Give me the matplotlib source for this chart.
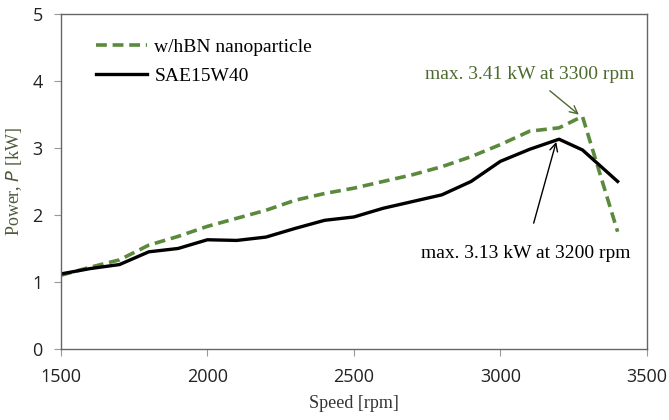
import matplotlib
matplotlib.use("Agg")
import matplotlib.pyplot as plt

speed = [1500, 1600, 1700, 1800, 1900, 2000, 2100, 2200, 2300, 2400, 2500,
         2600, 2700, 2800, 2900, 3000, 3100, 3200, 3280, 3400]
power_hbn = [1.10, 1.22, 1.33, 1.55, 1.68, 1.83, 1.95, 2.07, 2.22, 2.32, 2.40,
             2.50, 2.60, 2.72, 2.87, 3.05, 3.25, 3.30, 3.47, 1.75]
power_sae = [1.12, 1.20, 1.26, 1.45, 1.50, 1.63, 1.62, 1.67, 1.80, 1.92, 1.97,
             2.10, 2.20, 2.30, 2.50, 2.80, 2.98, 3.13, 2.97, 2.50]

x_ticks = [1500, 2000, 2500, 3000, 3500]
y_ticks = [0, 1, 2, 3, 4, 5]

green = "#5b8a3c"
serif = "Liberation Serif"

fig = plt.figure(figsize=(6.69, 4.2), dpi=100)
ax = fig.add_axes([0.091, 0.169, 0.876, 0.798])

ax.plot(speed, power_hbn, color=green, lw=2.6, ls=(0, (3, 1.6)),
        label="w/hBN nanoparticle")
ax.plot(speed, power_sae, color="black", lw=2.4, label="SAE15W40")

ax.set_xlim(1500, 3500)
ax.set_ylim(0, 5)
ax.set_xticks(x_ticks)
ax.set_yticks(y_ticks)
for sp in ax.spines.values():
    sp.set_color("#666666")
    sp.set_linewidth(1.0)
ax.tick_params(direction="out", length=5, color="#999999", labelsize=13,
               labelcolor="#222222")
ax.tick_params(axis="x", pad=9)
ax.tick_params(axis="y", pad=8)
for lab in ax.get_xticklabels() + ax.get_yticklabels():
    lab.set_family("Open Sans")

ax.set_xlabel("Speed [rpm]", family=serif, fontsize=13, color="#333333", labelpad=6)
ax.set_ylabel("Power, $\\mathit{P}$ [kW]", family=serif, fontsize=13,
              color="#4d5a3a", labelpad=6)

leg = ax.legend(loc="upper left", bbox_to_anchor=(0.03, 0.98), frameon=False,
                prop={"family": serif, "size": 14}, handlelength=2.6,
                handletextpad=0.4, labelspacing=0.6)

ax.annotate("max. 3.41 kW at 3300 rpm", xy=(3275, 3.47), xytext=(3100, 4.1),
            color="#4d6b30", family=serif, fontsize=14, ha="center", va="center",
            arrowprops=dict(arrowstyle="->", color="#4d6b30", lw=1.0,
                            shrinkA=6, shrinkB=2, mutation_scale=14))
ax.annotate("max. 3.13 kW at 3200 rpm", xy=(3193, 3.13), xytext=(3085, 1.43),
            color="black", family=serif, fontsize=14, ha="center", va="center",
            arrowprops=dict(arrowstyle="->", color="black", lw=1.0,
                            shrinkA=14, shrinkB=2, mutation_scale=14))

fig.savefig("out.png", dpi=100)
